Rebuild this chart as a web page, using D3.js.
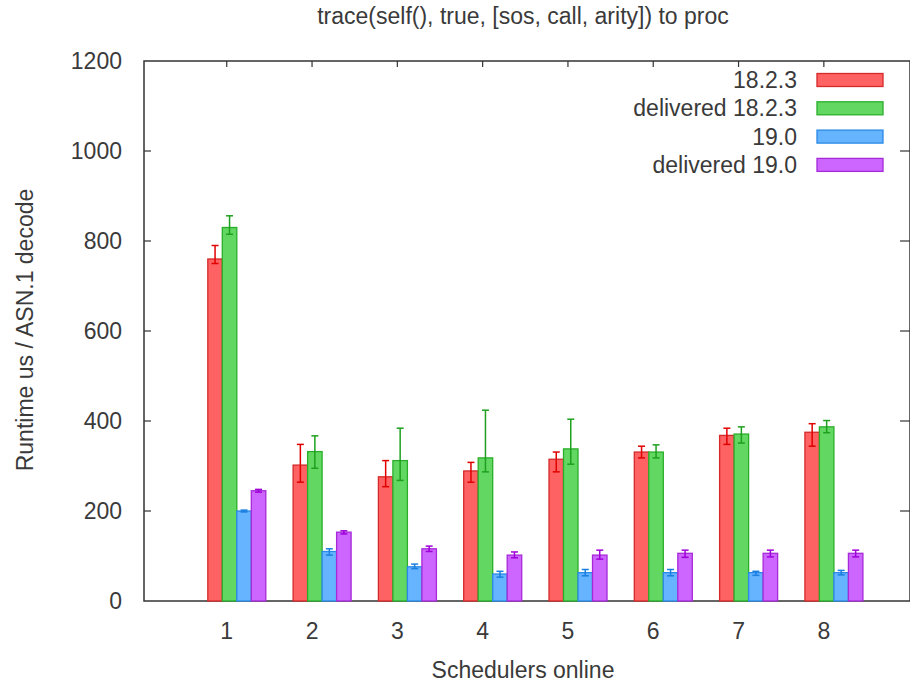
<!DOCTYPE html>
<html>
<head>
<meta charset="utf-8">
<script src="https://cdn.jsdelivr.net/npm/d3@7"></script>
<style>
body { margin: 0; background: #fff; }
text { font-family: "Liberation Sans", Arial, sans-serif; fill: #3a3a3a; }
</style>
</head>
<body>
<script>
// chart values
var categories = ["1", "2", "3", "4", "5", "6", "7", "8"];
var seriesNames = ["18.2.3", "delivered 18.2.3", "19.0", "delivered 19.0"];

var v_1823 = [760, 302, 276, 289, 315, 331, 368, 375];
var lo_1823 = [750, 264, 254, 264, 287, 318, 348, 344];
var hi_1823 = [790, 348, 312, 308, 331, 344, 384, 394];

var v_del1823 = [830, 332, 312, 318, 338, 331, 371, 387];
var lo_del1823 = [815, 295, 268, 287, 304, 318, 351, 374];
var hi_del1823 = [856, 367, 384, 424, 404, 347, 387, 401];

var v_19 = [200, 110, 76, 60, 63, 63, 63, 63];
var lo_19 = [198, 102, 72, 53, 56, 56, 57, 58];
var hi_19 = [202, 116, 82, 66, 70, 70, 66, 68];

var v_del19 = [245, 153, 116, 102, 102, 106, 106, 106];
var lo_del19 = [242, 149, 110, 96, 93, 97, 98, 98];
var hi_del19 = [248, 156, 122, 109, 113, 113, 113, 113];

var yTicks = [0, 200, 400, 600, 800, 1000, 1200];

var fills = ["#ff6262", "#62d862", "#66b3ff", "#cd66ff"];
var strokes = ["#d42a2a", "#2aae2a", "#2a8ae6", "#a62ad8"];
var errCols = ["#e00000", "#1ea01e", "#1a7fe0", "#a000d8"];

var series = [
	{ name: seriesNames[0], v: v_1823, lo: lo_1823, hi: hi_1823 },
	{ name: seriesNames[1], v: v_del1823, lo: lo_del1823, hi: hi_del1823 },
	{ name: seriesNames[2], v: v_19, lo: lo_19, hi: hi_19 },
	{ name: seriesNames[3], v: v_del19, lo: lo_del19, hi: hi_del19 }
];

var FS = "23px";

main = function(){
	var W = 910, H = 683;
	var left = 144, right = 910, top = 61, bottom = 601;

	var svg = d3.select("body").append("svg")
			.attr("width", W)
			.attr("height", H);

	var x = d3.scaleLinear().domain([-0.97, 8.01]).range([left, right]);
	var y = d3.scaleLinear().domain([0, 1200]).range([bottom, top]);
	var bw = 0.17;   // box width in category units
	var off = -0.222; // left edge of first box relative to tick

	// frame
	svg.append("rect")
			.attr("x", left).attr("y", top)
			.attr("width", right - left).attr("height", bottom - top)
			.attr("fill", "none")
			.attr("stroke", "#333")
			.attr("stroke-width", 1.5);

	// y ticks left + right (inward)
	var yg = svg.append("g");
	yTicks.forEach(function(t){
		if (t == 0 || t == 1200) return;
		yg.append("line").attr("x1", left).attr("x2", left + 7)
			.attr("y1", y(t)).attr("y2", y(t)).attr("stroke", "#333").attr("stroke-width", 1.2);
		yg.append("line").attr("x1", right - 10).attr("x2", right)
			.attr("y1", y(t)).attr("y2", y(t)).attr("stroke", "#333").attr("stroke-width", 1.2);
	});
	yg.selectAll("text.yl").data(yTicks).enter().append("text")
			.attr("class", "yl")
			.attr("x", left - 22)
			.attr("y", function(d){ return y(d); })
			.attr("dy", "0.35em")
			.attr("text-anchor", "end")
			.style("font-size", FS)
			.text(function(d){ return d; });

	// x ticks top + bottom
	var xg = svg.append("g");
	categories.forEach(function(c, i){
		xg.append("line").attr("x1", x(i)).attr("x2", x(i))
			.attr("y1", top).attr("y2", top + 6).attr("stroke", "#333").attr("stroke-width", 1.2);
		xg.append("line").attr("x1", x(i)).attr("x2", x(i))
			.attr("y1", bottom).attr("y2", bottom - 6).attr("stroke", "#333").attr("stroke-width", 1.2);
		xg.append("text")
			.attr("x", x(i))
			.attr("y", 639)
			.attr("text-anchor", "middle")
			.style("font-size", FS)
			.text(c);
	});

	// bars
	series.forEach(function(s, j){
		var g = svg.append("g").attr("class", "series" + j);
		g.selectAll("rect").data(s.v).enter().append("rect")
				.attr("x", function(d, i){ return x(i + off + j * bw); })
				.attr("y", function(d){ return y(d); })
				.attr("width", x(bw) - x(0))
				.attr("height", function(d){ return y(0) - y(d); })
				.attr("fill", fills[j])
				.attr("stroke", strokes[j])
				.attr("stroke-width", 1.3);
	});

	// error bars
	series.forEach(function(s, j){
		var g = svg.append("g").attr("class", "err" + j)
				.attr("stroke", errCols[j]).attr("stroke-width", 1.5);
		for (var i = 0; i < s.v.length; i++){
			var cx = x(i + off + j * bw + bw / 2);
			g.append("line").attr("x1", cx).attr("x2", cx)
				.attr("y1", y(s.lo[i])).attr("y2", y(s.hi[i]));
			g.append("line").attr("x1", cx - 3.5).attr("x2", cx + 3.5)
				.attr("y1", y(s.lo[i])).attr("y2", y(s.lo[i]));
			g.append("line").attr("x1", cx - 3.5).attr("x2", cx + 3.5)
				.attr("y1", y(s.hi[i])).attr("y2", y(s.hi[i]));
		}
	});

	// legend
	var lg = svg.append("g");
	series.forEach(function(s, j){
		var cy = 80 + j * 28.3;
		lg.append("text")
			.attr("x", 797).attr("y", cy)
			.attr("dy", "0.35em")
			.attr("text-anchor", "end")
			.style("font-size", FS)
			.text(s.name);
		lg.append("rect")
			.attr("x", 817).attr("y", cy - 6.5)
			.attr("width", 66).attr("height", 13)
			.attr("fill", fills[j])
			.attr("stroke", strokes[j])
			.attr("stroke-width", 1.3);
	});

	// titles
	svg.append("text")
			.attr("x", 523).attr("y", 24)
			.attr("text-anchor", "middle")
			.style("font-size", FS)
			.text("trace(self(), true, [sos, call, arity]) to proc");
	svg.append("text")
			.attr("x", 523).attr("y", 678)
			.attr("text-anchor", "middle")
			.style("font-size", FS)
			.text("Schedulers online");
	svg.append("text")
			.attr("transform", "translate(33," + 330 + ") rotate(-90)")
			.attr("text-anchor", "middle")
			.style("font-size", FS)
			.text("Runtime us / ASN.1 decode");
};

main();
</script>
</body>
</html>
